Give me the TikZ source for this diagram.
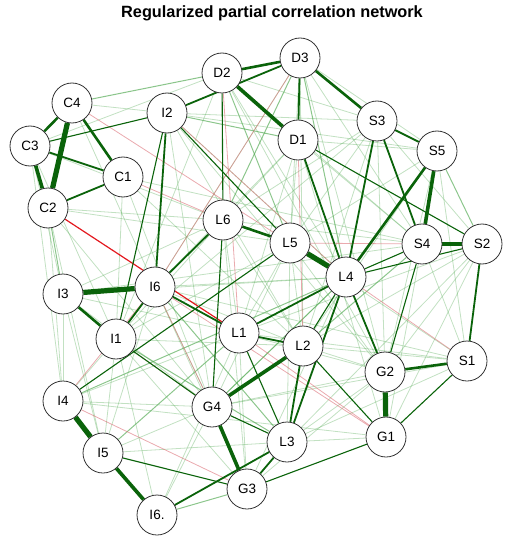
\documentclass[tikz,border=0pt]{standalone}
\usepackage{fontspec}
\setmainfont{Liberation Sans}
\usetikzlibrary{backgrounds}
\definecolor{netgreen}{HTML}{0A630A}
\definecolor{netlight}{HTML}{4FA84F}
\definecolor{netred}{HTML}{E3191F}
\definecolor{netpink}{HTML}{D9646C}
\definecolor{netink}{HTML}{333333}
\tikzset{
  var/.style={circle, draw=netink, fill=white, line width=0.8pt, minimum size=40pt, inner sep=0pt, font=\fontsize{13.5}{13.5}\selectfont},
  ttl/.style={font=\fontsize{16.3}{16.3}\selectfont\bfseries},
  fz/.style={draw=netlight, line width=0.8pt, opacity=0.35},
  fg/.style={draw=netlight, line width=1pt, opacity=0.65},
  fr/.style={draw=netpink, line width=0.8pt, opacity=0.55},
  rd/.style={draw=netred, line width=1.2pt},
  w1/.style={draw=netgreen, line width=1.1pt},
  w2/.style={draw=netgreen, line width=1.8pt},
  w3/.style={draw=netgreen, line width=2.6pt},
  w4/.style={draw=netgreen, line width=3.6pt},
  w5/.style={draw=netgreen, line width=5.2pt},
}
\begin{document}
\begin{tikzpicture}[x=1pt, y=-1pt]
  \useasboundingbox (0,0) rectangle (510,540);
  \node[ttl] (title) at (272,13) {Regularized partial correlation network};
  % variables
  \node[var] (d3) at (300,58) {D3};
  \node[var] (d2) at (222,73) {D2};
  \node[var] (d1) at (298,140) {D1};
  \node[var] (i2) at (167,113) {I2};
  \node[var] (c4) at (72,103) {C4};
  \node[var] (c3) at (30,146) {C3};
  \node[var] (c1) at (123,177) {C1};
  \node[var] (c2) at (48,208) {C2};
  \node[var] (s3) at (377,121) {S3};
  \node[var] (s5) at (437,151) {S5};
  \node[var] (s4) at (422,244) {S4};
  \node[var] (s2) at (482,244) {S2};
  \node[var] (s1) at (467,361) {S1};
  \node[var] (l6) at (223,220) {L6};
  \node[var] (l5) at (290,243) {L5};
  \node[var] (l4) at (346,277) {L4};
  \node[var] (l1) at (239,333) {L1};
  \node[var] (l2) at (303,346) {L2};
  \node[var] (l3) at (287,442) {L3};
  \node[var] (g2) at (385,372) {G2};
  \node[var] (g1) at (386,437) {G1};
  \node[var] (g4) at (212,407) {G4};
  \node[var] (g3) at (247,489) {G3};
  \node[var] (i6) at (155,287) {I6};
  \node[var] (i3) at (63,294) {I3};
  \node[var] (i1) at (116,339) {I1};
  \node[var] (i4) at (63,401) {I4};
  \node[var] (i5) at (103,453) {I5};
  \node[var] (i6b) at (157,515) {I6.};
  \begin{scope}[on background layer]
    % weak edges
    \draw[fz] (c2) -- (i4); \draw[fz] (c2) -- (i5); \draw[fz] (c3) -- (i3); \draw[fz] (c3) -- (i4);
    \draw[fz] (c2) -- (l6); \draw[fz] (c1) -- (i1); \draw[fz] (c1) -- (g4); \draw[fz] (c3) -- (l6);
    \draw[fz] (c4) -- (i2); \draw[fz] (c3) -- (d2); \draw[fz] (c2) -- (l5); \draw[fz] (c1) -- (s4);
    \draw[fz] (i2) -- (s3); \draw[fz] (i2) -- (l2); \draw[fz] (i2) -- (g4); \draw[fz] (i2) -- (l4);
    \draw[fz] (d2) -- (s3); \draw[fz] (d2) -- (l4); \draw[fz] (d2) -- (i1); \draw[fz] (d2) -- (g2);
    \draw[fz] (d3) -- (l5); \draw[fz] (d3) -- (s5); \draw[fz] (d3) -- (s4); \draw[fz] (d3) -- (i6);
    \draw[fz] (d3) -- (g2); \draw[fz] (d3) -- (l2); \draw[fz] (d1) -- (l6); \draw[fz] (d1) -- (l5);
    \draw[fz] (d1) -- (s5); \draw[fz] (d1) -- (s4); \draw[fz] (d1) -- (l1); \draw[fz] (d1) -- (i6);
    \draw[fz] (s3) -- (l5); \draw[fz] (s3) -- (s2); \draw[fz] (s3) -- (l6); \draw[fz] (s3) -- (g2);
    \draw[fz] (s3) -- (l2); \draw[fz] (s5) -- (l5); \draw[fz] (s5) -- (g2); \draw[fz] (s5) -- (s1);
    \draw[fz] (s4) -- (l6); \draw[fz] (s4) -- (s1); \draw[fz] (s4) -- (g1); \draw[fz] (s2) -- (g2);
    \draw[fz] (s2) -- (l2); \draw[fz] (s2) -- (g1); \draw[fz] (s1) -- (l2); \draw[fz] (s1) -- (l1);
    \draw[fz] (s1) -- (g4); \draw[fz] (s1) -- (l5); \draw[fz] (s1) -- (l3); \draw[fz] (s1) -- (i6);
    \draw[fz] (l6) -- (l1); \draw[fz] (l6) -- (l2); \draw[fz] (l6) -- (i3); \draw[fz] (l6) -- (i1);
    \draw[fz] (l6) -- (g3); \draw[fz] (l5) -- (l1); \draw[fz] (l5) -- (l2); \draw[fz] (l5) -- (g4);
    \draw[fz] (l5) -- (i1); \draw[fz] (l4) -- (g4); \draw[fz] (l4) -- (i6); \draw[fz] (l4) -- (i3);
    \draw[fz] (l4) -- (g3); \draw[fz] (i6) -- (g4); \draw[fz] (i6) -- (l2); \draw[fz] (i6) -- (g3);
    \draw[fz] (i3) -- (i4); \draw[fz] (i3) -- (i5); \draw[fz] (i3) -- (g4); \draw[fz] (i3) -- (l1);
    \draw[fz] (i1) -- (i4); \draw[fz] (i1) -- (i5); \draw[fz] (i1) -- (g3); \draw[fz] (i1) -- (l2);
    \draw[fz] (i4) -- (g4); \draw[fz] (i4) -- (l1); \draw[fz] (i4) -- (i6b); \draw[fz] (i5) -- (g4);
    \draw[fz] (i6b) -- (g4); \draw[fz] (i6b) -- (i1); \draw[fz] (g4) -- (g2); \draw[fz] (l3) -- (g2);
    \draw[fz] (l3) -- (l5); \draw[fz] (l3) -- (g1); \draw[fz] (g3) -- (g2); \draw[fz] (g3) -- (l1);
    \draw[fz] (l1) -- (g2); \draw[fz] (l2) -- (g2); \draw[fz] (g2) -- (l5); \draw[fz] (i3) -- (s4);
    \draw[fz] (c1) -- (l2); \draw[fz] (c2) -- (g4); \draw[fz] (c3) -- (i1); \draw[fz] (c4) -- (i6);
    \draw[fz] (i2) -- (s5); \draw[fz] (i2) -- (g2); \draw[fz] (d2) -- (s4); \draw[fz] (d1) -- (g1);
    \draw[fz] (s3) -- (i1); \draw[fz] (s2) -- (l3); \draw[fz] (s2) -- (l1); \draw[fz] (s5) -- (l2);
    \draw[fz] (i5) -- (l3); \draw[fz] (i5) -- (i6); \draw[fz] (i4) -- (g1); \draw[fz] (i6b) -- (l1);
    \draw[fg] (c4) -- (d2); \draw[fg] (i2) -- (d1); \draw[fg] (d3) -- (l6); \draw[fg] (d2) -- (l5);
    \draw[fg] (s5) -- (s2); \draw[fg] (i1) -- (l3); \draw[fg] (i6) -- (l3); \draw[fg] (i5) -- (l1);
    \draw[fg] (i6b) -- (g3); \draw[fg] (g4) -- (l4); \draw[fg] (d3) -- (l4); \draw[fg] (c2) -- (i3);
    \draw[fg] (l2) -- (s4); \draw[fg] (i4) -- (l4);
    % negative edges
    \draw[fr] (c1) -- (l6); \draw[fr] (c4) -- (l5); \draw[fr] (d2) -- (l1); \draw[fr] (d3) -- (i6);
    \draw[fr] (d1) -- (l2); \draw[fr] (i4) -- (g3); \draw[fr] (i1) -- (g4); \draw[fr] (i6) -- (g4);
    \draw[fr] (l5) -- (s4); \draw[fr] (i6) -- (g1); \draw[fr] (l4) -- (s1); \draw[fr] (i4) -- (i6);
    \draw[fr] (i2) -- (l4); \draw[fr] (l1) -- (g1);
    \draw[rd] (c2) -- (l1);
    % strong edges
    \draw[w5] (c4) -- (c2); \draw[w4] (c3) -- (c2); \draw[w3] (c4) -- (c3); \draw[w3] (c4) -- (c1);
    \draw[w2] (c3) -- (c1); \draw[w2] (c2) -- (c1); \draw[w1] (c3) -- (i2);
    \draw[w4] (d2) -- (d1); \draw[w3] (d3) -- (d2); \draw[w2] (i2) -- (d3); \draw[w2] (d3) -- (d1);
    \draw[w3] (d3) -- (s3); \draw[w2] (d1) -- (l4); \draw[w1] (d2) -- (l6);
    \draw[w2] (s3) -- (s5); \draw[w2] (s3) -- (s4); \draw[w2] (s3) -- (l4); \draw[w4] (s5) -- (s4);
    \draw[w3] (s5) -- (l4); \draw[w4] (s4) -- (s2); \draw[w1] (s4) -- (l4); \draw[w1] (s2) -- (l4);
    \draw[w2] (s2) -- (s1); \draw[w3] (s1) -- (g2); \draw[w1] (s1) -- (g1); \draw[w1] (s4) -- (g2);
    \draw[w2] (g2) -- (l4); \draw[w5] (g2) -- (g1); \draw[w1] (g1) -- (g3); \draw[w1] (d1) -- (s2);
    \draw[w5] (l4) -- (l5); \draw[w3] (l6) -- (l5); \draw[w2] (l6) -- (i6); \draw[w1] (l6) -- (g4);
    \draw[w2] (i6) -- (l1); \draw[w2] (l1) -- (l4); \draw[w2] (l1) -- (l2); \draw[w1] (l1) -- (l3);
    \draw[w4] (l2) -- (g4); \draw[w2] (l2) -- (l3); \draw[w2] (l4) -- (l3); \draw[w1] (l4) -- (l2);
    \draw[w1] (l2) -- (g1); \draw[w4] (g4) -- (g3); \draw[w1] (g4) -- (l3); \draw[w2] (l3) -- (g3);
    \draw[w2] (i6b) -- (l3); \draw[w1] (g3) -- (i5); \draw[w4] (i5) -- (i6b); \draw[w5] (i4) -- (i5);
    \draw[w5] (i3) -- (i6); \draw[w3] (i3) -- (i1); \draw[w2] (i1) -- (i6); \draw[w2] (i2) -- (i6);
    \draw[w1] (i2) -- (i1); \draw[w1] (i2) -- (l5); \draw[w1] (i1) -- (g4); \draw[w1] (i4) -- (l5);
  \end{scope}
\end{tikzpicture}
\end{document}
